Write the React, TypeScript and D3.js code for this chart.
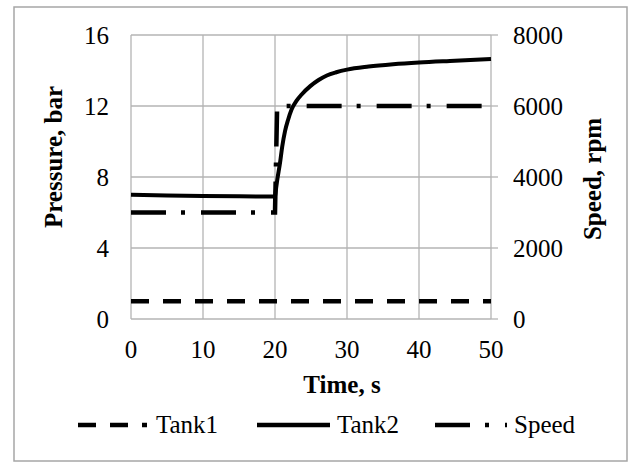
import * as d3 from 'd3';

const timeTicks = [0, 10, 20, 30, 40, 50];
const pressureTicks = [0, 4, 8, 12, 16];
const speedTicks = [0, 2000, 4000, 6000, 8000];

const tank1Time = [0, 50];
const tank1Pressure = [1.0, 1.0];

const tank2Time = [0, 5, 10, 15, 20, 20.1, 20.3, 20.7, 21.0, 21.4, 21.8, 22.3, 23.0, 23.7, 24.9, 26.0, 27.2, 28.5, 30, 33, 36.4, 40, 45, 50];
const tank2Pressure = [7.0, 6.96, 6.93, 6.91, 6.9, 7.2, 7.8, 8.8, 9.7, 10.6, 11.2, 11.8, 12.3, 12.65, 13.12, 13.45, 13.72, 13.9, 14.05, 14.22, 14.35, 14.45, 14.55, 14.65];

const speedTime = [0, 20, 20.3, 50];
const speedRpm = [3000, 3000, 6000, 6000];

const legendLabels = ['Tank1', 'Tank2', 'Speed'];

const FONT = "'Liberation Serif', 'DejaVu Serif', serif";
const GRID = '#b4b4b4';

export default function App() {
  const width = 635;
  const height = 463;
  const x = d3.scaleLinear([0, 50], [131, 491]);
  const yL = d3.scaleLinear([0, 16], [319, 35]);
  const yR = d3.scaleLinear([0, 8000], [319, 35]);

  const pLine = d3
    .line<[number, number]>()
    .x((d) => x(d[0]))
    .y((d) => yL(d[1]));
  const tank2Line = d3
    .line<[number, number]>()
    .x((d) => x(d[0]))
    .y((d) => yL(d[1]))
    .curve(d3.curveMonotoneX);
  const sLine = d3
    .line<[number, number]>()
    .x((d) => x(d[0]))
    .y((d) => yR(d[1]));

  const tank1 = tank1Time.map((t, i) => [t, tank1Pressure[i]] as [number, number]);
  const tank2 = tank2Time.map((t, i) => [t, tank2Pressure[i]] as [number, number]);
  const speed = speedTime.map((t, i) => [t, speedRpm[i]] as [number, number]);

  const dashTank1 = '18 14';
  const dashSpeed = '35 15 4 16';

  // legend rows: line start, line end, text x
  const legendPos = [
    { x0: 78, x1: 147, tx: 156, dash: dashTank1 },
    { x0: 257, x1: 330, tx: 337, dash: undefined },
    { x0: 435, x1: 507, tx: 514, dash: dashSpeed },
  ];
  const legendY = 425;
  const txt = { fontFamily: FONT, fontSize: 25 };
  const bold = { fontFamily: FONT, fontSize: 25, fontWeight: 'bold' as const };

  return (
    <svg
      width={width}
      height={height}
      style={{ position: 'absolute', left: 0, top: 0, background: '#fff' }}>
      <rect x={0} y={0} width={width} height={height} fill='#fff' />
      <rect x={14} y={7} width={613} height={454} fill='none' stroke='#a6a6a6' strokeWidth={1.5} />

      {/* grid */}
      {pressureTicks.map((v) => (
        <line key={'h' + v} x1={x(0)} x2={x(50)} y1={yL(v)} y2={yL(v)} stroke={GRID} strokeWidth={1.3} />
      ))}
      {timeTicks.map((t) => (
        <line key={'v' + t} x1={x(t)} x2={x(t)} y1={yL(0)} y2={yL(16)} stroke={GRID} strokeWidth={1.3} />
      ))}
      {/* right axis ticks */}
      {speedTicks.map((v) => (
        <line key={'rt' + v} x1={x(50)} x2={x(50) + 7} y1={yR(v)} y2={yR(v)} stroke={GRID} strokeWidth={1.3} />
      ))}

      {/* series */}
      <path d={pLine(tank1) ?? ''} fill='none' stroke='#000' strokeWidth={4.5} strokeDasharray={dashTank1} />
      <path d={sLine(speed) ?? ''} fill='none' stroke='#000' strokeWidth={4.5} strokeDasharray={dashSpeed} />
      <path d={tank2Line(tank2) ?? ''} fill='none' stroke='#000' strokeWidth={4} strokeLinejoin='round' />

      {/* tick labels */}
      {pressureTicks.map((v) => (
        <text key={'lt' + v} x={109} y={yL(v) + 8.5} textAnchor='end' style={txt}>
          {v}
        </text>
      ))}
      {speedTicks.map((v) => (
        <text key={'rl' + v} x={513} y={yR(v) + 8.5} textAnchor='start' style={txt}>
          {v}
        </text>
      ))}
      {timeTicks.map((t) => (
        <text key={'bl' + t} x={x(t)} y={358} textAnchor='middle' style={txt}>
          {t}
        </text>
      ))}

      {/* axis titles */}
      <text x={342} y={393} textAnchor='middle' style={bold}>
        Time, s
      </text>
      <text transform='translate(62,157) rotate(-90)' textAnchor='middle' style={bold}>
        Pressure, bar
      </text>
      <text transform='translate(601,179) rotate(-90)' textAnchor='middle' style={bold}>
        Speed, rpm
      </text>

      {/* legend */}
      {legendLabels.map((name, i) => (
        <g key={name}>
          <line
            x1={legendPos[i].x0}
            x2={legendPos[i].x1}
            y1={legendY}
            y2={legendY}
            stroke='#000'
            strokeWidth={4.5}
            strokeDasharray={legendPos[i].dash}
          />
          <text x={legendPos[i].tx} y={legendY + 8} style={txt}>
            {name}
          </text>
        </g>
      ))}
    </svg>
  );
}
